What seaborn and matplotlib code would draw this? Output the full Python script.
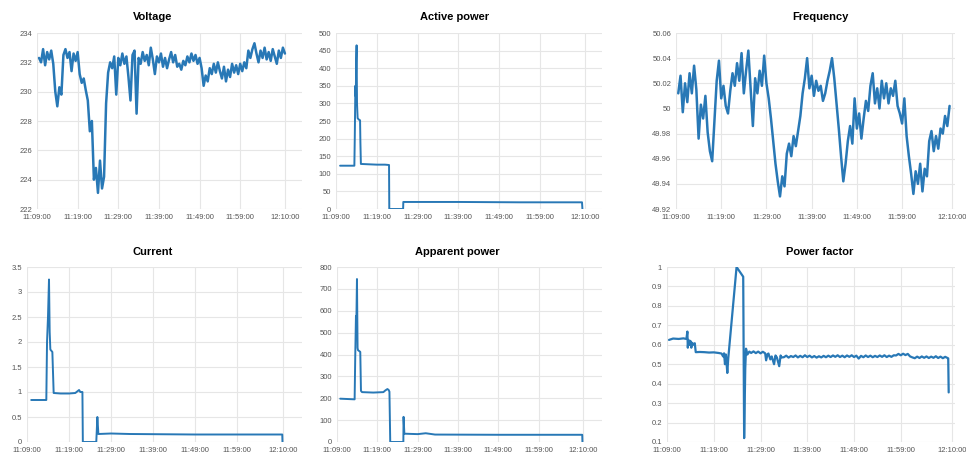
import numpy as np
import matplotlib
matplotlib.use("Agg")
import matplotlib.pyplot as plt
import seaborn as sns

# minutes after 11:09:00
tick_minutes = [0, 10, 20, 30, 40, 50, 61]
tick_labels = ["11:09:00", "11:19:00", "11:29:00", "11:39:00", "11:49:00", "11:59:00", "12:10:00"]

# voltage, sampled every 30 s from 0.5 min
volt_t = np.arange(0.5, 61.01, 0.5)
volt_v = [
    232.3, 232.0, 232.9, 231.8, 232.7, 232.2, 232.8, 231.9, 230.0, 229.0,
    230.3, 229.8, 232.5, 232.9, 232.3, 232.7, 231.4, 232.6, 232.1, 232.7,
    231.2, 230.6, 230.9, 230.1, 229.4, 227.3, 228.0, 224.0, 224.8, 223.1,
    225.3, 223.4, 224.2, 229.2, 231.3, 232.0, 231.6, 232.4, 229.8, 232.3,
    231.8, 232.6, 231.9, 232.4, 231.0, 229.4, 232.5, 232.8, 228.5, 232.3,
    231.9, 232.7, 232.1, 232.5, 231.8, 233.0, 232.2, 231.2, 232.4, 232.0,
    232.6, 231.7, 232.3, 231.6, 232.2, 232.7, 232.0, 232.5, 231.7, 231.9,
    231.5, 232.1, 231.8, 232.4, 232.0, 232.6, 232.1, 232.5, 231.9, 232.3,
    231.6, 230.4, 231.1, 230.7, 231.6, 231.2, 231.9, 231.3, 232.0, 231.4,
    230.9, 231.7, 230.7, 231.5, 231.0, 231.9, 231.3, 231.8, 231.2, 231.9,
    231.4, 232.0, 231.6, 232.8, 232.3, 232.9, 233.3, 232.6, 232.0, 232.8,
    232.3, 233.0, 232.2, 232.7, 232.1, 232.9, 232.4, 231.9, 232.8, 232.3,
    233.0, 232.6,
]

# frequency, sampled every 30 s from 0.5 min
freq_t = np.arange(0.5, 60.51, 0.5)
freq_v = [
    50.012, 50.026, 49.997, 50.020, 50.005, 50.028, 50.012, 50.034, 50.015, 49.976,
    50.003, 49.992, 50.010, 49.981, 49.966, 49.958, 49.990, 50.022, 50.038, 50.008,
    50.018, 50.002, 49.996, 50.014, 50.028, 50.018, 50.036, 50.022, 50.044, 50.012,
    50.030, 50.046, 50.016, 49.986, 50.024, 50.012, 50.030, 50.018, 50.042, 50.020,
    50.008, 49.992, 49.974, 49.956, 49.942, 49.930, 49.946, 49.938, 49.964, 49.972,
    49.962, 49.978, 49.970, 49.982, 49.994, 50.012, 50.024, 50.040, 50.016, 50.026,
    50.010, 50.022, 50.014, 50.018, 50.006, 50.012, 50.022, 50.030, 50.040, 50.024,
    50.004, 49.984, 49.962, 49.942, 49.956, 49.974, 49.986, 49.972, 50.008, 49.984,
    49.996, 49.976, 49.992, 50.006, 49.998, 50.018, 50.028, 50.004, 50.016, 50.000,
    50.022, 50.008, 50.020, 50.004, 50.016, 50.010, 50.022, 50.002, 49.996, 49.988,
    50.008, 49.978, 49.962, 49.948, 49.932, 49.950, 49.940, 49.956, 49.934, 49.952,
    49.946, 49.974, 49.982, 49.966, 49.978, 49.968, 49.984, 49.980, 49.994, 49.986,
    50.002,
]

# active power (W)
act_t = [1.0, 4.5, 4.6, 4.75, 4.85, 4.95, 5.05, 5.15, 5.3, 5.6, 5.9, 5.98, 6.1,
         8.0, 10.0, 12.0, 13.0, 13.06, 16.45, 16.5, 30.0, 45.0, 60.3, 60.4]
act_v = [123, 123, 200, 350, 320, 420, 465, 300, 258, 254, 252, 190, 128,
         127, 126, 126, 125, 0, 0, 20, 20, 19, 19, 0]

# current (A)
cur_t = [1.0, 4.6, 4.77, 5.0, 5.24, 5.4, 5.56, 6.04, 6.35, 8.0, 10.0, 11.5, 12.4,
         12.7, 13.2, 13.3, 16.5, 16.76, 17.0, 20.0, 24.5, 40.0, 60.8, 60.85]
cur_v = [0.84, 0.84, 2.0, 2.5, 3.25, 2.2, 1.85, 1.8, 0.98, 0.97, 0.97, 0.98, 1.04,
         1.0, 1.0, 0, 0, 0.5, 0.16, 0.17, 0.16, 0.15, 0.15, 0]

# apparent power (VA)
app_t = [0.8, 4.37, 4.53, 4.7, 4.78, 4.95, 5.1, 5.2, 5.77, 5.94, 6.2, 9.0, 11.5,
         12.0, 12.5, 12.8, 13.0, 13.2, 16.45, 16.5, 16.7, 20.0, 22.0, 24.3, 40.0,
         60.8, 60.85]
app_v = [198, 195, 400, 575, 520, 745, 430, 420, 412, 234, 228, 226, 228,
         236, 242, 238, 230, 0, 0, 115, 38, 36, 40, 34, 33,
         33, 0]

# power factor
pf_t = [0.43, 1.3, 2.5, 3.5, 4.15, 4.36, 4.45, 4.6, 4.86, 5.0, 5.2, 5.4, 5.6, 5.94,
        6.15, 7.0, 8.0, 9.0, 10.0, 11.0, 11.66, 12.0, 12.2, 12.4, 12.6, 12.9, 13.1,
        14.88, 16.3, 16.5, 16.74, 16.9, 17.2, 17.6, 18.0, 18.5, 19.0, 19.5, 20.0,
        20.5, 21.0, 21.2, 21.5, 21.7, 22.1, 22.4, 22.9, 23.2, 23.5, 24.0, 24.3, 24.5,
        25.0, 25.5, 26.0, 26.5, 27.0, 27.5, 28.0, 28.5, 29.0, 29.5,
        30.0, 30.5, 31.0, 31.5, 32.0, 32.5, 33.0, 33.5, 34.0, 34.5,
        35.0, 35.5, 36.0, 36.5, 37.0, 37.5, 38.0, 38.5, 39.0, 39.5,
        40.0, 40.5, 41.0, 41.5, 42.0, 42.5, 43.0, 43.5, 44.0, 44.5,
        45.0, 45.5, 46.0, 46.5, 47.0, 47.5, 48.0, 48.5, 49.0, 49.5,
        50.0, 50.5, 51.0, 51.5, 52.0, 52.5, 53.0, 53.5, 54.0, 54.5,
        55.0, 55.5, 56.0, 56.5, 57.0, 57.5, 58.0, 58.5, 59.0, 59.5,
        60.0, 60.15, 60.25]
pf_v = [0.625, 0.632, 0.630, 0.633, 0.630, 0.668, 0.585, 0.625, 0.600, 0.620, 0.585,
        0.610, 0.600, 0.608, 0.562, 0.563, 0.562, 0.560, 0.561, 0.558, 0.555, 0.540,
        0.556, 0.500, 0.550, 0.455, 0.530, 1.0, 0.95, 0.12, 0.480, 0.580, 0.550, 0.565,
        0.558, 0.566, 0.557, 0.565, 0.556, 0.564, 0.556, 0.520, 0.552, 0.555, 0.525,
        0.540, 0.500, 0.545, 0.535, 0.490, 0.545, 0.535,
        0.536, 0.544, 0.534, 0.542, 0.537, 0.545, 0.535, 0.543, 0.536, 0.546,
        0.537, 0.544, 0.535, 0.542, 0.534, 0.541, 0.535, 0.543, 0.536, 0.544,
        0.537, 0.545, 0.538, 0.546, 0.537, 0.544, 0.536, 0.545, 0.538, 0.546,
        0.537, 0.544, 0.529, 0.543, 0.536, 0.545, 0.537, 0.544, 0.536, 0.543,
        0.537, 0.545, 0.538, 0.546, 0.537, 0.544, 0.538, 0.546, 0.545, 0.553,
        0.546, 0.554, 0.547, 0.553, 0.540, 0.535, 0.531, 0.539, 0.532, 0.540,
        0.533, 0.540, 0.532, 0.539, 0.533, 0.541, 0.532, 0.539, 0.531, 0.538,
        0.532, 0.530, 0.355]

sns.set_style("whitegrid")
plt.rcParams['font.family'] = ['Liberation Sans', 'DejaVu Sans']

LINE = "#2878b6"
W, H = 966, 457


def px_rect(left, top, right, bottom):
    return [left / W, 1 - bottom / H, (right - left) / W, (bottom - top) / H]


panels = [
    ("Voltage", volt_t, volt_v, px_rect(37, 33, 302, 209), 65.2, np.arange(222, 234.1, 2), (153, 17), 1.8),
    ("Active power", act_t, act_v, px_rect(336, 33, 602, 209), 65.2, np.arange(0, 501, 50), (455, 17), 1.4),
    ("Frequency", freq_t, freq_v, px_rect(676, 33, 955, 209), 61.7, np.arange(49.92, 50.061, 0.02), (820, 17), 1.8),
    ("Current", cur_t, cur_v, px_rect(27, 267, 302, 442), 65.5, np.arange(0, 3.51, 0.5), (153, 252), 1.4),
    ("Apparent power", app_t, app_v, px_rect(337, 267, 602, 442), 65.7, np.arange(0, 801, 100), (457, 252), 1.4),
    ("Power factor", pf_t, pf_v, px_rect(667, 267, 955, 442), 61.6, np.arange(0.1, 1.01, 0.1), (820, 252), 1.6),
]

fig = plt.figure(figsize=(9.66, 4.57), dpi=100)

for title, t, v, rect, xmax, yticks, (tx, ty), lw in panels:
    ax = fig.add_axes(rect)
    sns.lineplot(x=t, y=v, ax=ax, color=LINE, linewidth=lw, sort=False)
    ax.set_xlim(0, xmax)
    ax.set_ylim(yticks[0], yticks[-1])
    ax.set_xticks(tick_minutes)
    ax.set_xticklabels(tick_labels)
    ax.set_yticks(yticks)
    ax.set_yticklabels([f"{round(y, 4):g}" for y in yticks])
    ax.tick_params(labelsize=5.5, colors="#555555", length=0, pad=3.5)
    ax.grid(True, color="#e6e6e6", linewidth=0.8)
    for s in ax.spines.values():
        s.set_visible(False)
    ax.set_xlabel("")
    ax.set_ylabel("")
    fig.text(tx / W, 1 - ty / H, title, ha="center", va="center",
             fontsize=8, fontweight="bold", color="black")

fig.savefig("out.png", dpi=100)
